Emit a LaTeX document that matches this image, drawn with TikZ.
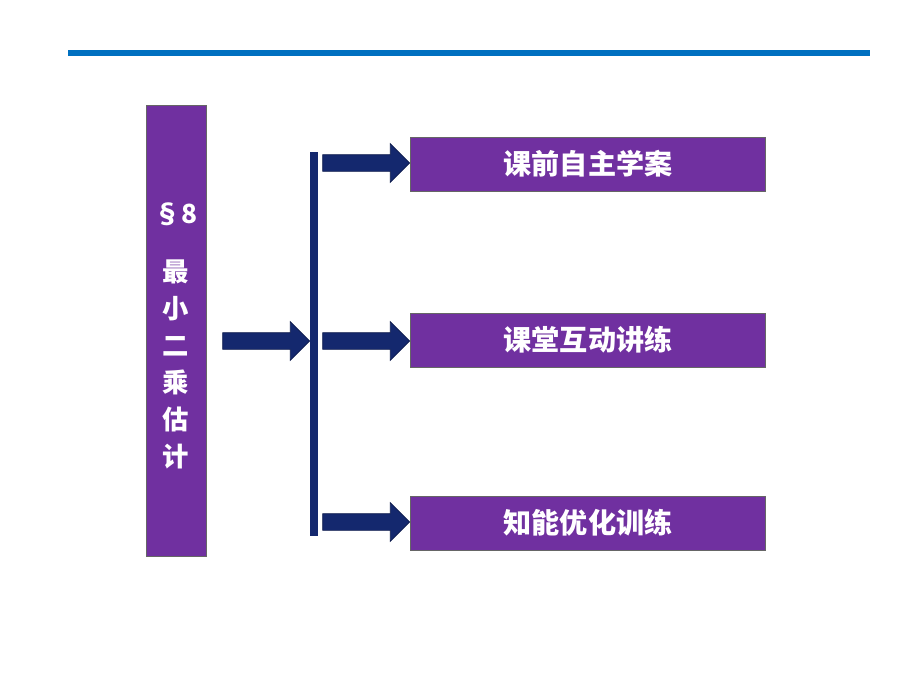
\documentclass[tikz,border=0pt]{standalone}
\usepackage{fontspec}
\newfontfamily\cjk{Noto Sans CJK SC}
\usetikzlibrary{positioning,shapes.arrows}
\definecolor{topblue}{RGB}{0,112,192}
\definecolor{boxpurple}{RGB}{112,48,160}
\definecolor{navy}{RGB}{20,40,110}
\begin{document}
\begin{tikzpicture}[x=0.02cm,y=-0.02cm,
    box/.style={draw=black!60,fill=boxpurple,text=white,font=\cjk\bfseries\fontsize{16}{18}\selectfont,
        minimum width=7.1cm,minimum height=1.08cm,inner sep=0pt},
    blockarrow/.style={single arrow,fill=navy,draw=navy!70!black,minimum height=1.74cm,
        inner xsep=0pt,inner ysep=0.16cm,single arrow head extend=0.22cm}]
    \useasboundingbox (0,0) rectangle (920,690);
    \coordinate (tl) at (68,53);
    \coordinate (tr) at (870,53);
    \draw[topblue,line width=3pt] (tl) -- (tr);

    \node[draw=black!60,fill=boxpurple,minimum width=1.2cm,minimum height=9.02cm,inner sep=0pt] (title) at (176,331) {};
    \node[text=white,font=\cjk\bfseries\fontsize{15}{21}\selectfont,align=center] (label) at (176,336)
        {\S8\\[12pt]最\\小\\二\\乘\\估\\计};

    \node[blockarrow] (a0) at (262,341) {};
    \node[fill=navy,minimum width=0.16cm,minimum height=7.7cm,inner sep=0pt] (bar) at (314,344) {};

    \node[box] (b1) at (588,164) {课前自主学案};
    \node[box] (b2) at (588,340) {课堂互动讲练};
    \node[box] (b3) at (588,523) {知能优化训练};

    \node[blockarrow] (a1) at (362,163) {};
    \node[blockarrow] (a2) at (362,341) {};
    \node[blockarrow] (a3) at (362,522) {};
\end{tikzpicture}
\end{document}
